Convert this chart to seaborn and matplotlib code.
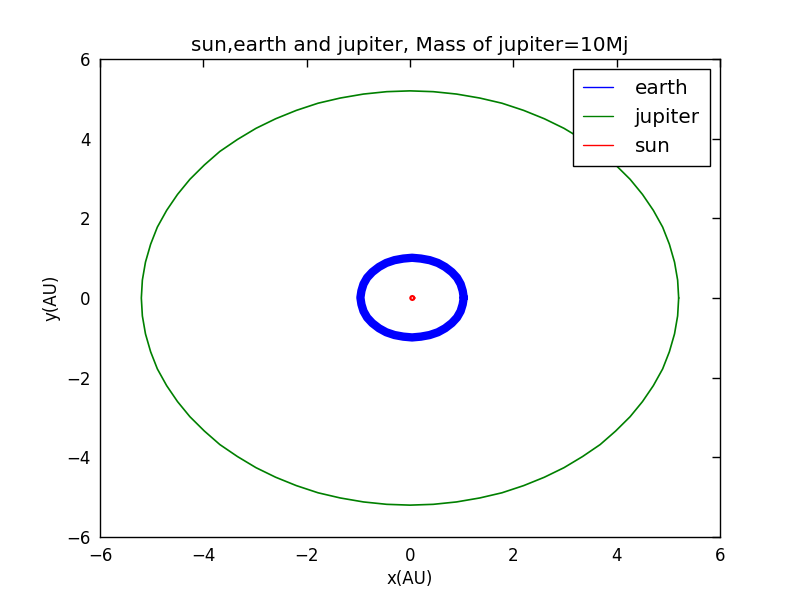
import pandas as pd
import matplotlib
matplotlib.use("Agg")
import matplotlib.pyplot as plt
import seaborn as sns

# orbit points (AU), traced counter-clockwise
jupiter_x = [5.20, 5.18, 5.12, 5.02, 4.89, 4.71, 4.50, 4.26, 3.98, 3.68, 3.34, 2.98, 2.60,
             2.20, 1.78, 1.35, 0.90, 0.45, 0.00,
             -0.45, -0.90, -1.35, -1.78, -2.20, -2.60, -2.98, -3.34, -3.68, -3.98, -4.26,
             -4.50, -4.71, -4.89, -5.02, -5.12, -5.18, -5.20,
             -5.18, -5.12, -5.02, -4.89, -4.71, -4.50, -4.26, -3.98, -3.68, -3.34, -2.98,
             -2.60, -2.20, -1.78, -1.35, -0.90, -0.45, 0.00,
             0.45, 0.90, 1.35, 1.78, 2.20, 2.60, 2.98, 3.34, 3.68, 3.98, 4.26, 4.50, 4.71,
             4.89, 5.02, 5.12, 5.18, 5.20]
jupiter_y = [0.00, 0.45, 0.90, 1.35, 1.78, 2.20, 2.60, 2.98, 3.34, 3.68, 3.98, 4.26, 4.50,
             4.71, 4.89, 5.02, 5.12, 5.18, 5.20,
             5.18, 5.12, 5.02, 4.89, 4.71, 4.50, 4.26, 3.98, 3.68, 3.34, 2.98, 2.60, 2.20,
             1.78, 1.35, 0.90, 0.45, 0.00,
             -0.45, -0.90, -1.35, -1.78, -2.20, -2.60, -2.98, -3.34, -3.68, -3.98, -4.26,
             -4.50, -4.71, -4.89, -5.02, -5.12, -5.18, -5.20,
             -5.18, -5.12, -5.02, -4.89, -4.71, -4.50, -4.26, -3.98, -3.68, -3.34, -2.98,
             -2.60, -2.20, -1.78, -1.35, -0.90, -0.45, 0.00]

earth_x = [1.04, 1.02, 0.98, 0.91, 0.81, 0.68, 0.54, 0.38, 0.21, 0.04,
           -0.13, -0.30, -0.46, -0.60, -0.73, -0.83, -0.90, -0.94, -0.96,
           -0.94, -0.90, -0.83, -0.73, -0.60, -0.46, -0.30, -0.13, 0.04,
           0.21, 0.38, 0.54, 0.68, 0.81, 0.91, 0.98, 1.02, 1.04]
earth_y = [0.01, 0.18, 0.35, 0.51, 0.65, 0.78, 0.88, 0.95, 0.99, 1.01,
           0.99, 0.95, 0.88, 0.78, 0.65, 0.51, 0.35, 0.18, 0.01,
           -0.16, -0.33, -0.49, -0.63, -0.76, -0.86, -0.93, -0.97, -0.99,
           -0.97, -0.93, -0.86, -0.76, -0.63, -0.49, -0.33, -0.16, 0.01]

sun_x = [0.085, 0.073, 0.045, 0.017, 0.005, 0.017, 0.045, 0.073, 0.085]
sun_y = [0.000, 0.035, 0.050, 0.035, 0.000, -0.035, -0.050, -0.035, 0.000]

ticks = [-6, -4, -2, 0, 2, 4, 6]

sns.set_style("white")
plt.rcParams["font.family"] = ["DejaVu Sans"]
plt.rcParams["text.color"] = "black"
plt.rcParams["axes.labelcolor"] = "black"

fig, ax = plt.subplots(figsize=(8, 5.96), dpi=100)
fig.subplots_adjust(left=0.125, right=0.9, bottom=0.099, top=0.901)

earth = pd.DataFrame({"x": earth_x, "y": earth_y})
jupiter = pd.DataFrame({"x": jupiter_x, "y": jupiter_y})
sun = pd.DataFrame({"x": sun_x, "y": sun_y})

# estimator=None keeps the points in path order (no aggregation over x)
sns.lineplot(data=earth, x="x", y="y", sort=False, estimator=None, color="blue", lw=6,
             solid_joinstyle="round", label="earth", ax=ax)
sns.lineplot(data=jupiter, x="x", y="y", sort=False, estimator=None, color="green", lw=1.2,
             label="jupiter", ax=ax)
sns.lineplot(data=sun, x="x", y="y", sort=False, estimator=None, color="red", lw=1.6,
             label="sun", ax=ax)

ax.set_xlim(-6, 6)
ax.set_ylim(-6, 6)
ax.set_xticks(ticks)
ax.set_yticks(ticks)
ax.tick_params(direction="in", length=6, width=1, top=True, right=True, labelsize=12,
               colors="black", pad=7)
for s in ax.spines.values():
    s.set_color("black")
    s.set_linewidth(1)

ax.set_title("sun,earth and jupiter, Mass of jupiter=10Mj", fontsize=14.4)
ax.set_xlabel("x(AU)", fontsize=12)
ax.set_ylabel("y(AU)", fontsize=12)

leg = ax.legend(loc="upper right", fontsize=14.4, frameon=True, fancybox=False,
                edgecolor="black", framealpha=1, borderpad=0.5, handlelength=1.5,
                handletextpad=1.1)
leg.get_frame().set_linewidth(1)
for h in leg.legend_handles:
    h.set_linewidth(1)

fig.savefig("out.png", dpi=100, facecolor="white")
